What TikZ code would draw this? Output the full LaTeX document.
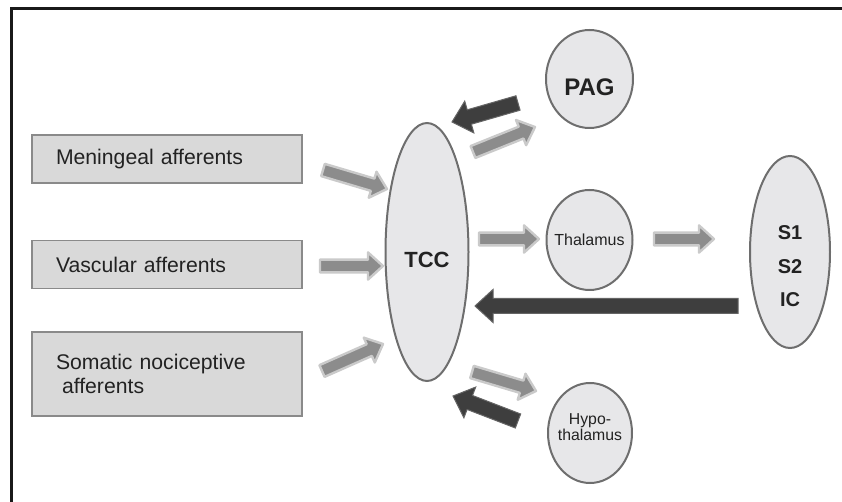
\documentclass[tikz,border=0pt]{standalone}
\usepackage{fontspec}
\setmainfont{Liberation Sans}
\usetikzlibrary{shapes.geometric,calc}
\definecolor{boxfill}{HTML}{D9D9D9}
\definecolor{boxline}{HTML}{8A8A8A}
\definecolor{blobfill}{HTML}{E7E7E9}
\definecolor{blobline}{HTML}{6E6E6E}
\definecolor{arrlight}{HTML}{8C8C8C}
\definecolor{arrglow}{HTML}{CACACA}
\definecolor{arrdark}{HTML}{3E3E3E}
\definecolor{ink}{HTML}{222222}

\begin{document}
\begin{tikzpicture}[x=0.5pt,y=-0.5pt,
  box/.style={draw=boxline, line width=0.8pt, fill=boxfill, text=ink, minimum height=24pt,
    inner xsep=12pt, text width=111pt, align=left, font=\fontsize{10.6}{12}\selectfont},
  blob/.style={ellipse, draw=blobline, line width=1pt, fill=blobfill, text=ink,
    inner xsep=-4pt, inner ysep=0pt, align=center},
  barrow/.style n args={3}{to path={
    ($(\tikztostart)!#1!90:(\tikztotarget)$)
    -- ($(\tikztotarget)!#3!(\tikztostart)!#1!90:(\tikztotarget)$)
    -- ($(\tikztotarget)!#3!(\tikztostart)!#2!90:(\tikztotarget)$)
    -- (\tikztotarget)
    -- ($(\tikztotarget)!#3!(\tikztostart)!#2!-90:(\tikztotarget)$)
    -- ($(\tikztotarget)!#3!(\tikztostart)!#1!-90:(\tikztotarget)$)
    -- ($(\tikztostart)!#1!-90:(\tikztotarget)$) -- cycle}},
  lightarr/.style={barrow={3.2pt}{6.8pt}{7.5pt}, fill=arrlight, draw=arrglow, line width=1.2pt, line join=round},
  darkarr/.style={barrow={3.75pt}{8.25pt}{9pt}, fill=arrdark, draw=arrdark!80!white, line width=0.5pt}]
\useasboundingbox (0,0) rectangle (842,502);
\draw[line width=1.35pt, color=black!90] (11.3,502) -- (11.3,8.7) -- (842,8.7);

\node[box] (men) at (167,159) {Meningeal afferents};
\node[box] (vas) at (167,264.5) {Vascular afferents};
\node[box, minimum height=42pt] (som) at (167,374) {Somatic nociceptive\\\hspace*{3pt}afferents};

\node[blob, minimum width=41.5pt, minimum height=129pt, font=\bfseries\fontsize{11}{13}\selectfont,
  text height=16pt, text depth=0pt] (tcc) at (427,252) {TCC};
\node[blob, minimum width=43.5pt, minimum height=49pt, font=\bfseries\fontsize{12}{14}\selectfont,
  text height=16.6pt, text depth=0pt] (pag) at (589.5,79) {PAG};
\node[blob, minimum width=43pt, minimum height=50pt, font=\fontsize{8}{9.5}\selectfont] (thal) at (589.5,240) {Thalamus};
\node[blob, minimum width=42pt, minimum height=50pt, font=\fontsize{7.9}{8.35}\selectfont,
  text height=8pt, text depth=0pt] (hypo) at (590,433) {Hypo-\\thalamus};
\node[blob, minimum width=40pt, minimum height=96pt, font=\bfseries\fontsize{10}{16.75}\selectfont,
  text height=55pt, text depth=0pt] (cortex) at (790,252) {S1\\S2\\IC};

\coordinate (menout) at (323,170);
\coordinate (menin) at (387,189);
\coordinate (vasout) at (320,266);
\coordinate (vasin) at (383,266);
\coordinate (somout) at (322,371);
\coordinate (somin) at (383,344);
\coordinate (pagup) at (473,152);
\coordinate (pagupend) at (535,127);
\coordinate (pagdown) at (518,103);
\coordinate (pagdownend) at (452,122);
\coordinate (thalin) at (479,239);
\coordinate (thalinend) at (539,239);
\coordinate (thalout) at (654,239);
\coordinate (thaloutend) at (714,239);
\coordinate (cortexout) at (738,306);
\coordinate (cortexoutend) at (475,306);
\coordinate (hypoin) at (472,372);
\coordinate (hypoinend) at (536,391);
\coordinate (hypoout) at (518,421);
\coordinate (hypooutend) at (453,396);

\draw[lightarr] (menout) to (menin);
\draw[lightarr] (vasout) to (vasin);
\draw[lightarr] (somout) to (somin);
\draw[lightarr] (pagup) to (pagupend);
\draw[darkarr] (pagdown) to (pagdownend);
\draw[lightarr] (thalin) to (thalinend);
\draw[lightarr] (thalout) to (thaloutend);
\draw[darkarr] (cortexout) to (cortexoutend);
\draw[lightarr] (hypoin) to (hypoinend);
\draw[darkarr] (hypoout) to (hypooutend);
\end{tikzpicture}
\end{document}
